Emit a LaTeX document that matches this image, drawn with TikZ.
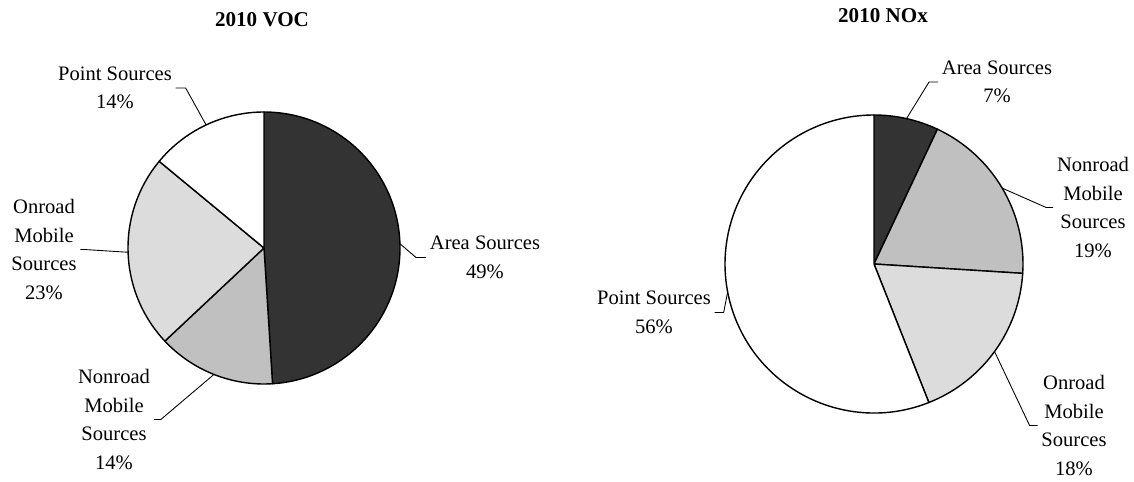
\documentclass[tikz,border=0pt]{standalone}
\usepackage{fontspec}
\setmainfont{Liberation Serif}
\usetikzlibrary{calc}
\definecolor{areafill}{HTML}{333333}
\definecolor{nonroadfill}{HTML}{C0C0C0}
\definecolor{onroadfill}{HTML}{DCDCDC}
\tikzset{
  slice/.style={draw=black, line width=0.8pt, line join=round},
  lbl/.style={align=center, inner sep=2pt, font=\fontsize{11.7}{16.2}\selectfont},
  ttl/.style={font=\fontsize{12}{14}\selectfont\bfseries},
  leader/.style={line width=0.5pt}
}
\begin{document}
\begin{tikzpicture}[x=0.02cm, y=0.02cm]
  \useasboundingbox (0,0) rectangle (1134,481);
  % 2010 VOC
  \coordinate (voc) at (264,233);
  \node[ttl] (voc-title) at (262,461) {2010 VOC};
  \filldraw[slice, fill=areafill] (voc) -- ++(90:136) arc[start angle=90, end angle=-86.4, radius=136] -- cycle;
  \filldraw[slice, fill=nonroadfill] (voc) -- ++(-86.4:136) arc[start angle=-86.4, end angle=-136.8, radius=136] -- cycle;
  \filldraw[slice, fill=onroadfill] (voc) -- ++(-136.8:136) arc[start angle=-136.8, end angle=-219.6, radius=136] -- cycle;
  \filldraw[slice, fill=white] (voc) -- ++(-219.6:136) arc[start angle=-219.6, end angle=-270, radius=136] -- cycle;
  \coordinate (voc-area-pt) at ($(voc)+(1.8:136)$);
  \coordinate (voc-nonroad-pt) at ($(voc)+(-111.6:136)$);
  \coordinate (voc-onroad-pt) at ($(voc)+(-178.2:136)$);
  \coordinate (voc-point-pt) at ($(voc)+(-244.8:136)$);
  \node[lbl] (voc-area) at (485,223.5) {Area Sources\\49\%};
  \node[lbl] (voc-point) at (115,393) {Point Sources\\14\%};
  \node[lbl] (voc-onroad) at (44,231.5) {Onroad\\Mobile\\Sources\\23\%};
  \node[lbl] (voc-nonroad) at (114,61.5) {Nonroad\\Mobile\\Sources\\14\%};
  \draw[leader] (voc-area.west) -- ++(-10,0) -- (voc-area-pt);
  \draw[leader] (voc-point.east) -- ++(10,0) -- (voc-point-pt);
  \draw[leader] (voc-onroad.east) -- ++(4,0) -- (voc-onroad-pt);
  \draw[leader] (voc-nonroad.east) -- ++(7,0) -- (voc-nonroad-pt);
  % 2010 NOx
  \coordinate (nox) at (874,217);
  \node[ttl] (nox-title) at (883,465.5) {2010 NOx};
  \filldraw[slice, fill=areafill] (nox) -- ++(90:149) arc[start angle=90, end angle=64.8, radius=149] -- cycle;
  \filldraw[slice, fill=nonroadfill] (nox) -- ++(64.8:149) arc[start angle=64.8, end angle=-3.6, radius=149] -- cycle;
  \filldraw[slice, fill=onroadfill] (nox) -- ++(-3.6:149) arc[start angle=-3.6, end angle=-68.4, radius=149] -- cycle;
  \filldraw[slice, fill=white] (nox) -- ++(-68.4:149) arc[start angle=-68.4, end angle=-270, radius=149] -- cycle;
  \coordinate (nox-area-pt) at ($(nox)+(77.4:149)$);
  \coordinate (nox-nonroad-pt) at ($(nox)+(30.6:149)$);
  \coordinate (nox-onroad-pt) at ($(nox)+(-36:149)$);
  \coordinate (nox-point-pt) at ($(nox)+(-169.2:149)$);
  \node[lbl] (nox-area) at (997,399) {Area Sources\\7\%};
  \node[lbl] (nox-nonroad) at (1093,273.5) {Nonroad\\Mobile\\Sources\\19\%};
  \node[lbl] (nox-onroad) at (1074,55.5) {Onroad\\Mobile\\Sources\\18\%};
  \node[lbl] (nox-point) at (654,168.5) {Point Sources\\56\%};
  \draw[leader] (nox-area.west) -- ++(-9,0) -- (nox-area-pt);
  \draw[leader] (nox-nonroad.west) -- ++(-7,0) -- (nox-nonroad-pt);
  \draw[leader] (nox-onroad.west) -- ++(-8,0) -- (nox-onroad-pt);
  \draw[leader] (nox-point.east) -- ++(9,0) -- (nox-point-pt);
\end{tikzpicture}
\end{document}
